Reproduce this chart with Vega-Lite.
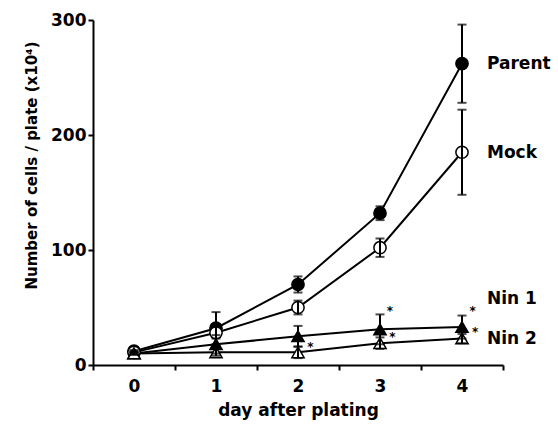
{
  "$schema": "https://vega.github.io/schema/vega-lite/v6.json",
  "width": 410,
  "height": 345,
  "autosize": "none",
  "padding": {"left": 93, "top": 20, "right": 55, "bottom": 67},
  "background": "white",
  "config": {
    "view": {"stroke": null},
    "font": "DejaVu Sans",
    "axis": {
      "domainColor": "black", "domainWidth": 2, "tickColor": "black", "tickWidth": 2, "tickSize": 5,
      "grid": false, "labelColor": "black", "titleColor": "black",
      "labelFont": "DejaVu Sans", "titleFont": "DejaVu Sans",
      "labelFontSize": 17, "labelFontWeight": "bold", "titleFontSize": 17, "titleFontWeight": "bold"
    }
  },
  "datasets": {
    "growth": [
      {"series": "Parent", "day": 0, "cells": 12, "err": 1},
      {"series": "Parent", "day": 1, "cells": 32, "err": 14},
      {"series": "Parent", "day": 2, "cells": 70, "err": 7},
      {"series": "Parent", "day": 3, "cells": 132, "err": 6},
      {"series": "Parent", "day": 4, "cells": 262, "err": 34},
      {"series": "Mock", "day": 0, "cells": 11, "err": 1},
      {"series": "Mock", "day": 1, "cells": 28, "err": 5},
      {"series": "Mock", "day": 2, "cells": 50, "err": 6},
      {"series": "Mock", "day": 3, "cells": 102, "err": 8},
      {"series": "Mock", "day": 4, "cells": 185, "err": 37},
      {"series": "Nin 1", "day": 0, "cells": 10, "err": 1},
      {"series": "Nin 1", "day": 1, "cells": 18, "err": 8},
      {"series": "Nin 1", "day": 2, "cells": 25, "err": 9},
      {"series": "Nin 1", "day": 3, "cells": 31, "err": 13},
      {"series": "Nin 1", "day": 4, "cells": 33, "err": 10},
      {"series": "Nin 2", "day": 0, "cells": 10, "err": 1},
      {"series": "Nin 2", "day": 1, "cells": 11, "err": 3},
      {"series": "Nin 2", "day": 2, "cells": 11, "err": 5},
      {"series": "Nin 2", "day": 3, "cells": 19, "err": 5},
      {"series": "Nin 2", "day": 4, "cells": 23, "err": 4}
    ],
    "stars": [
      {"day": 2.15, "cells": 18},
      {"day": 3.12, "cells": 50},
      {"day": 3.15, "cells": 27},
      {"day": 4.13, "cells": 50},
      {"day": 4.16, "cells": 31}
    ],
    "labels": [
      {"series": "Parent", "day": 4, "cells": 262},
      {"series": "Mock", "day": 4, "cells": 184},
      {"series": "Nin 1", "day": 4, "cells": 57},
      {"series": "Nin 2", "day": 4, "cells": 23}
    ]
  },
  "encoding": {
    "x": {
      "field": "day", "type": "quantitative",
      "scale": {"domain": [-0.5, 4.5], "nice": false, "zero": false},
      "axis": {
        "title": "day after plating",
        "values": [-0.5, 0.5, 1.5, 2.5, 3.5, 4.5],
        "labelExpr": "datum.value < 4 ? toString(datum.value + 0.5) : ''",
        "labelOffset": 41, "labelFlush": false, "labelPadding": 8, "titlePadding": 8
      }
    },
    "y": {
      "field": "cells", "type": "quantitative",
      "scale": {"domain": [0, 300], "nice": false},
      "axis": {
        "title": "Number of cells / plate (x10⁴)", "titleFontSize": 15, "titleY": 145,
        "values": [0, 100, 200, 300], "labelPadding": 2, "titlePadding": 11
      }
    }
  },
  "layer": [
    {
      "data": {"name": "growth"},
      "mark": {"type": "line", "color": "black", "strokeWidth": 2},
      "encoding": {"detail": {"field": "series"}}
    },
    {
      "data": {"name": "growth"},
      "mark": {"type": "point", "filled": true, "stroke": "black", "strokeWidth": 1.5, "size": 150, "opacity": 1},
      "encoding": {
        "shape": {"field": "series", "type": "nominal", "legend": null,
          "scale": {"domain": ["Parent", "Mock", "Nin 1", "Nin 2"], "range": ["circle", "circle", "triangle-up", "triangle-up"]}},
        "fill": {"field": "series", "type": "nominal", "legend": null,
          "scale": {"domain": ["Parent", "Mock", "Nin 1", "Nin 2"], "range": ["black", "white", "black", "white"]}}
      }
    },
    {
      "data": {"name": "growth"},
      "mark": {"type": "errorbar", "ticks": {"size": 9, "thickness": 2, "color": "black"}, "rule": {"strokeWidth": 2, "color": "black"}},
      "encoding": {
        "yError": {"field": "err"},
        "detail": {"field": "series"}
      }
    },
    {
      "data": {"name": "stars"},
      "mark": {"type": "text", "text": "*", "font": "DejaVu Sans", "fontSize": 12, "fontWeight": "bold", "color": "black", "dy": 3}
    },
    {
      "data": {"name": "labels"},
      "mark": {"type": "text", "align": "left", "baseline": "middle", "dx": 25, "font": "DejaVu Sans", "fontSize": 17, "fontWeight": "bold", "color": "black"},
      "encoding": {"text": {"field": "series"}}
    }
  ]
}
